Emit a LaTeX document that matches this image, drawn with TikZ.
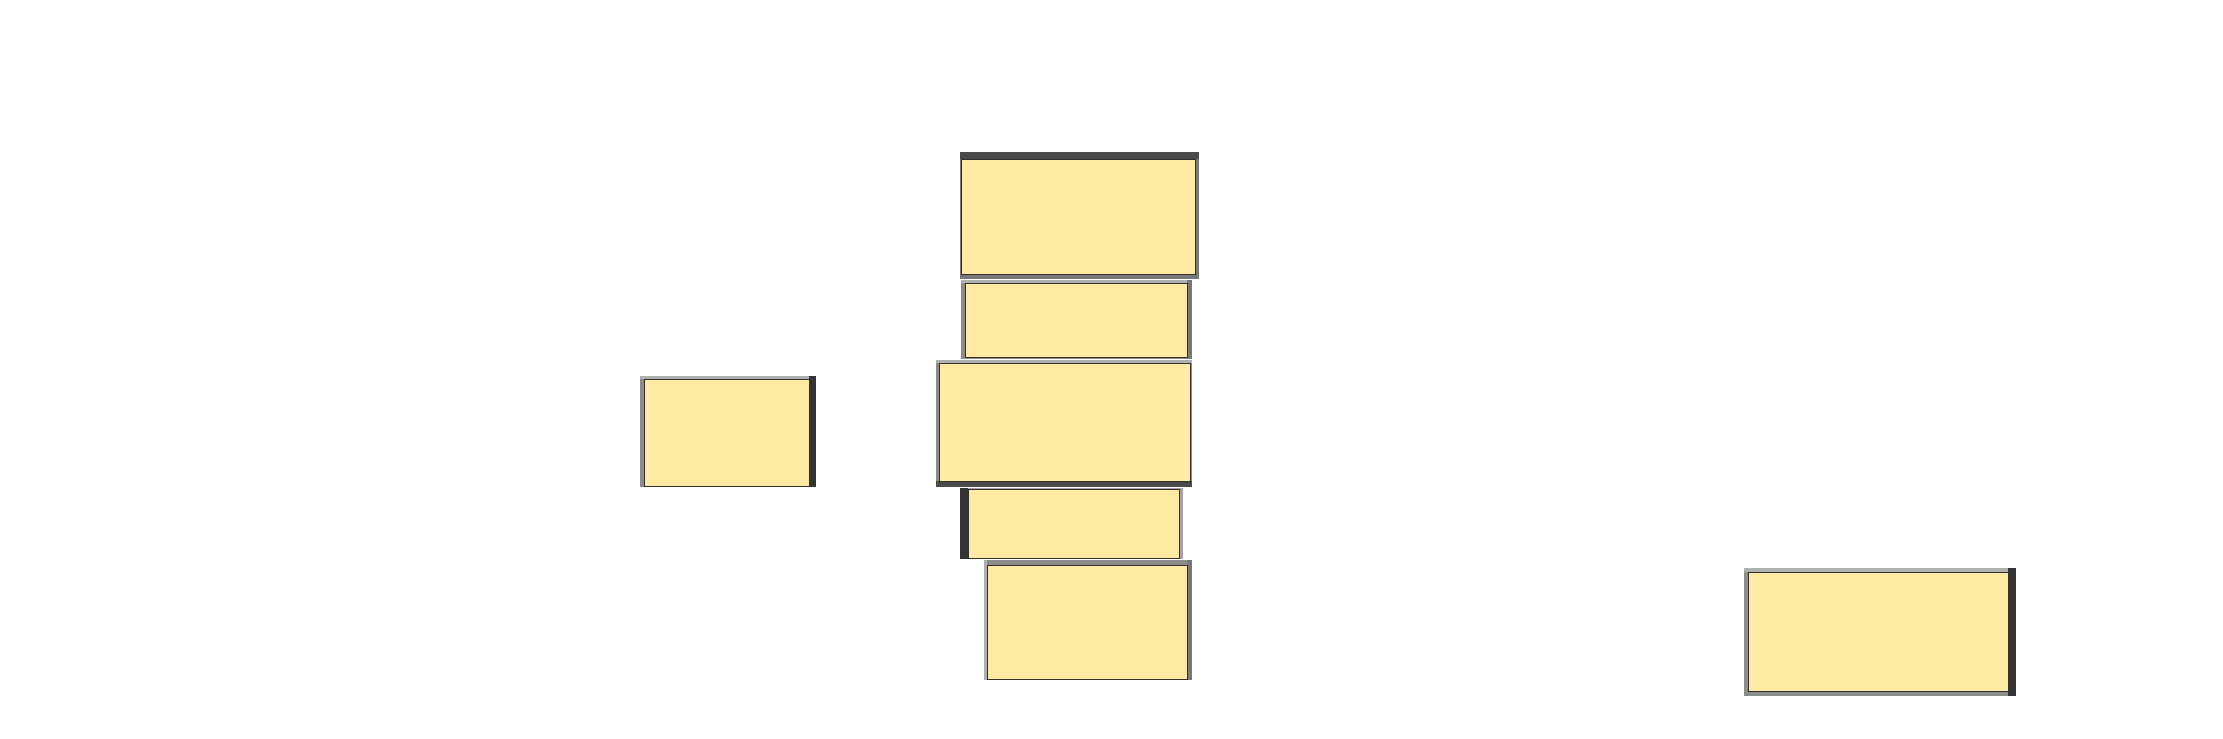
\documentclass[tikz,border=0pt]{standalone}
\usepackage{tikz}
\definecolor{facecol}{RGB}{254,234,162}
\definecolor{edgecol}{RGB}{50,48,40}
\definecolor{gA}{RGB}{52,52,52}
\definecolor{gB}{RGB}{74,74,74}
\definecolor{gC}{RGB}{120,120,120}
\definecolor{gD}{RGB}{140,140,140}
\definecolor{gE}{RGB}{176,176,176}
\definecolor{gF}{RGB}{168,162,168}
\tikzset{face/.style={fill=facecol,draw=edgecol,line width=0.8pt}}
% strips: #1 colour, corners
\newcommand\strip[5]{\fill[#1] (#2,#3) rectangle (#4,#5);}
\begin{document}
\begin{tikzpicture}[x=0.03cm,y=-0.03cm]
\useasboundingbox (0,0) rectangle (2223,739);
% Box 1 (top)
\strip{gC}{960}{152}{1199}{279}
\strip{gB}{960}{152}{1199}{159}
\path[face] (961,159) rectangle (1195,274) coordinate (b1);
% Box 2
\strip{gD}{961}{280}{1192}{359}
\strip{gE}{961}{280}{1192}{283}
\strip{gC}{1187}{280}{1192}{359}
\path[face] (965,283) rectangle (1187,357) coordinate (b2);
% Box 3
\strip{gD}{936}{360}{1192}{487}
\strip{gE}{936}{360}{1192}{363}
\strip{gB}{936}{481}{1192}{487}
\path[face] (939,363) rectangle (1190,481) coordinate (b3);
% Left box
\strip{gD}{640}{376}{816}{487}
\strip{gE}{640}{376}{816}{379}
\strip{gA}{809}{376}{816}{487}
\path[face] (644,379) rectangle (809,486) coordinate (bl);
% Box 4
\strip{gF}{960}{488}{1183}{559}
\strip{gA}{960}{488}{968}{559}
\path[face] (968,489) rectangle (1179,558) coordinate (b4);
% Box 5
\strip{gD}{984}{560}{1192}{680}
\strip{gE}{984}{560}{987}{680}
\strip{gC}{1187}{560}{1192}{680}
\path[face] (987,565) rectangle (1187,679) coordinate (b5);
% Right box
\strip{gD}{1744}{568}{2016}{696}
\strip{gE}{1744}{568}{2016}{572}
\strip{gA}{2008}{568}{2016}{696}
\path[face] (1748,572) rectangle (2008,691) coordinate (br);
\end{tikzpicture}
\end{document}
